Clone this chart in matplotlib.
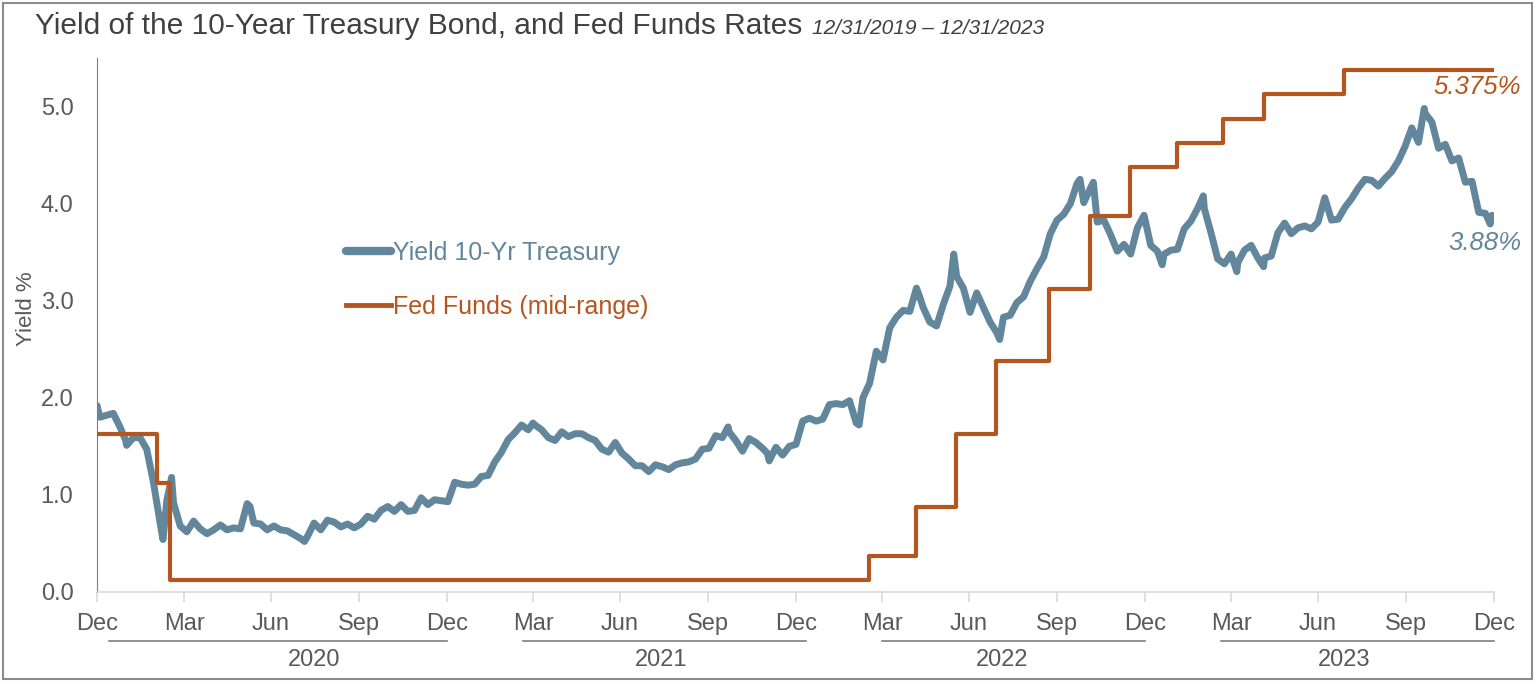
import pandas as pd
import matplotlib as mpl
import matplotlib.pyplot as plt
from matplotlib.patches import Rectangle

mpl.use('Agg')

# 10-yr treasury yield, weekly (Friday) closes from 2020-01-03
week_start = '2020-01-03'
yield_weekly = [
    1.80, 1.82, 1.84, 1.70, 1.51, 1.59, 1.59, 1.47, 1.13, 0.71, 0.94, 0.92, 0.68,
    0.62, 0.73, 0.65, 0.60, 0.64, 0.69, 0.64, 0.66, 0.65, 0.91, 0.71, 0.70, 0.64,
    0.68, 0.64, 0.63, 0.59, 0.55, 0.57, 0.71, 0.64, 0.74, 0.72, 0.67, 0.70, 0.66,
    0.70, 0.78, 0.75, 0.84, 0.88, 0.83, 0.90, 0.83, 0.84, 0.97, 0.90, 0.95, 0.94,
    # 2021
    0.93, 1.13, 1.11, 1.10, 1.11, 1.19, 1.20, 1.34, 1.44, 1.57, 1.64, 1.72, 1.67,
    1.72, 1.67, 1.59, 1.56, 1.65, 1.60, 1.63, 1.63, 1.59, 1.56, 1.47, 1.44, 1.54,
    1.43, 1.37, 1.30, 1.30, 1.24, 1.31, 1.29, 1.26, 1.31, 1.33, 1.34, 1.37, 1.47,
    1.48, 1.61, 1.59, 1.65, 1.56, 1.45, 1.58, 1.54, 1.48, 1.35, 1.49, 1.41, 1.50,
    1.52,
    # 2022
    1.76, 1.79, 1.76, 1.78, 1.93, 1.94, 1.93, 1.97, 1.74, 2.00, 2.15, 2.48, 2.39,
    2.72, 2.83, 2.90, 2.89, 3.13, 2.93, 2.78, 2.74, 2.96, 3.15, 3.25, 3.13, 2.88,
    3.08, 2.93, 2.78, 2.67, 2.83, 2.85, 2.98, 3.04, 3.20, 3.33, 3.45, 3.69, 3.83,
    3.89, 4.00, 4.21, 4.01, 4.16, 3.81, 3.83, 3.68, 3.51, 3.58, 3.48, 3.75, 3.88,
    # 2023
    3.57, 3.51, 3.48, 3.52, 3.53, 3.74, 3.82, 3.95, 3.95, 3.70, 3.43, 3.38, 3.48,
    3.39, 3.52, 3.57, 3.44, 3.44, 3.46, 3.70, 3.80, 3.69, 3.75, 3.77, 3.74, 3.81,
    4.06, 3.83, 3.84, 3.96, 4.05, 4.16, 4.25, 4.24, 4.18, 4.26, 4.33, 4.44, 4.59,
    4.78, 4.63, 4.93, 4.84, 4.57, 4.61, 4.44, 4.47, 4.22, 4.23, 3.91, 3.90, 3.88,
]

# daily highs / lows between the weekly closes
extra_dates = ['2019-12-31', '2020-03-09', '2020-03-18', '2020-01-30', '2020-06-08',
               '2020-08-04', '2021-03-31', '2021-10-21', '2021-12-01', '2022-03-07',
               '2022-05-09', '2022-06-14', '2022-08-01', '2022-10-24', '2022-11-07',
               '2023-01-18', '2023-03-02', '2023-04-06', '2023-05-04', '2023-10-19',
               '2023-12-27']
extra_yields = [1.92, 0.54, 1.18, 1.56, 0.88, 0.52, 1.74, 1.70, 1.43, 1.72,
                3.05, 3.48, 2.60, 4.25, 4.22, 3.37, 4.08, 3.30, 3.35, 4.98, 3.79]

# Fed funds target, midpoint of range
fed_dates = ['2019-12-31', '2020-03-03', '2020-03-16', '2022-03-17', '2022-05-05',
             '2022-06-16', '2022-07-28', '2022-09-22', '2022-11-03', '2022-12-15',
             '2023-02-02', '2023-03-23', '2023-05-04', '2023-07-27', '2023-12-31']
fed_rates = [1.625, 1.125, 0.125, 0.375, 0.875, 1.625, 2.375, 3.125, 3.875, 4.375,
             4.625, 4.875, 5.125, 5.375, 5.375]

years = ['2020', '2021', '2022', '2023']
year_line_start = ['2020-01-13', '2021-03-20', '2022-03-31', '2023-03-21']
year_line_end = ['2020-12-31', '2022-01-10', '2022-12-31', '2023-12-31']
year_label_at = ['2020-08-14', '2021-08-12', '2022-08-04', '2023-07-27']

blue = '#62869b'
orange = '#b5561f'
grey_txt = '#595959'

plt.rcParams['font.family'] = ['Liberation Sans', 'DejaVu Sans']

ys = pd.Series(yield_weekly, index=pd.date_range(week_start, periods=len(yield_weekly), freq='7D'))
ys = pd.concat([ys, pd.Series(extra_yields, index=pd.to_datetime(extra_dates))]).sort_index()

fig = plt.figure(figsize=(15.35, 6.82), dpi=100)
fig.patches.append(Rectangle((0.002, 0.004), 0.996, 0.992, transform=fig.transFigure,
                             fill=False, edgecolor='#8c8c8c', linewidth=1.5))
ax = fig.add_axes([0.0632, 0.132, 0.9101, 0.783])

ax.plot(ys.index, ys.values, color=blue, linewidth=5, solid_capstyle='round',
        solid_joinstyle='round', label='Yield 10-Yr Treasury', zorder=2)
ax.step(pd.to_datetime(fed_dates), fed_rates, where='post', color=orange, linewidth=3,
        label='Fed Funds (mid-range)', zorder=3)

ax.set_xlim(pd.Timestamp('2019-12-31'), pd.Timestamp('2023-12-31'))
ax.set_ylim(0, 5.5)
ax.set_yticks([0, 1, 2, 3, 4, 5])
ax.yaxis.set_major_formatter(mpl.ticker.FormatStrFormatter('%.1f'))

qticks = pd.date_range('2019-12-31', '2023-12-31', freq='QE')
ax.set_xticks(qticks)
ax.set_xticklabels([d.strftime('%b') for d in qticks])

for s in ['top', 'right']:
    ax.spines[s].set_visible(False)
ax.spines['left'].set_color('#7f7f7f')
ax.spines['bottom'].set_color('#d9d9d9')
ax.spines['bottom'].set_linewidth(1.2)
ax.tick_params(axis='y', length=0, pad=17, labelsize=17, labelcolor=grey_txt)
ax.tick_params(axis='x', length=7, color='#d9d9d9', width=1.2, pad=8,
               labelsize=17, labelcolor=grey_txt)

ax.set_ylabel('Yield %', fontsize=16, color=grey_txt)
ax.yaxis.set_label_coords(-0.043, 0.53)

trans = mpl.transforms.blended_transform_factory(ax.transData, ax.transAxes)
for yr, a, b, c in zip(years, year_line_start, year_line_end, year_label_at):
    ax.plot([pd.Timestamp(a), pd.Timestamp(b)], [-0.092, -0.092], transform=trans,
            color='#7f7f7f', linewidth=1.2, clip_on=False)
    ax.text(pd.Timestamp(c), -0.128, yr, transform=trans, ha='center', va='center',
            fontsize=17, color=grey_txt)

leg = ax.legend(loc='center left', bbox_to_anchor=(0.169, 0.585), frameon=False,
                borderpad=0, fontsize=18, labelcolor='linecolor', handlelength=1.8,
                handletextpad=0.08, labelspacing=1.2)
leg.get_lines()[0].set_linewidth(6)
leg.get_lines()[1].set_linewidth(3.5)

# end-value labels just right of the last points
lab_trans = mpl.transforms.blended_transform_factory(ax.transAxes, ax.transData)
ax.text(1.019, fed_rates[-1] - 0.17, '5.375%', transform=lab_trans, ha='right',
        va='center', fontsize=18.5, style='italic', color=orange)
ax.text(1.020, yield_weekly[-1] - 0.29, '3.88%', transform=lab_trans, ha='right',
        va='center', fontsize=18.5, style='italic', color=blue)

fig.text(0.023, 0.962, 'Yield of the 10-Year Treasury Bond, and Fed Funds Rates',
         fontsize=21.5, color='#404040', va='center')
fig.text(0.529, 0.958, '12/31/2019 \u2013 12/31/2023', fontsize=15, color='#404040',
         style='italic', va='center')

fig.savefig('out.png', dpi=100)
